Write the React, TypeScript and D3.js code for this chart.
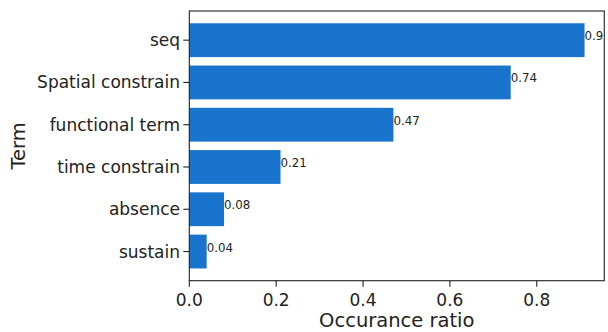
import React from 'react';
import * as d3 from 'd3';

// bottom to top, as drawn by barh
const terms = ['sustain', 'absence', 'time constrain', 'functional term', 'Spatial constrain', 'seq'];
const ratios = [0.04, 0.08, 0.21, 0.47, 0.74, 0.91];
const xTicks = [0, 0.2, 0.4, 0.6, 0.8];

const W = 608, H = 332;
const left = 189.3, right = 604.3, top = 11, bottom = 280.7;
const font = '"DejaVu Sans", sans-serif';
const barColor = '#1874cd';

export default function App() {
  const x = d3.scaleLinear().domain([0, d3.max(ratios)! * 1.05]).range([left, right]);
  // matplotlib barh: height 0.8, 5% margins
  const y = d3.scaleLinear().domain([-0.69, terms.length - 1 + 0.69]).range([bottom, top]);
  const bh = y(0) - y(0.8);

  return (
    <svg width={W} height={H} style={{ position: 'absolute', left: 0, top: 0 }} fontFamily={font}>
      <defs>
        <clipPath id="plotClip">
          <rect x={left} y={top} width={right - left} height={bottom - top} />
        </clipPath>
      </defs>
      <rect width={W} height={H} fill="#fff" />
      {ratios.map((v, i) => (
        <g key={terms[i]}>
          <rect x={x(0)} y={y(i) - bh / 2} width={x(v) - x(0)} height={bh} fill={barColor} />
          <text x={x(v)} y={y(i)} fontSize={11.8} fill="#222" clipPath="url(#plotClip)">{v.toFixed(2)}</text>
          <line x1={left - 6} x2={left} y1={y(i)} y2={y(i)} stroke="#222" strokeWidth={1.1} />
          <text x={180} y={y(i)} fontSize={17} textAnchor="end" dominantBaseline="central" fill="#222">{terms[i]}</text>
        </g>
      ))}
      {xTicks.map(t => (
        <g key={t}>
          <line x1={x(t)} x2={x(t)} y1={bottom} y2={bottom + 6} stroke="#222" strokeWidth={1.1} />
          <text x={x(t)} y={305.5} fontSize={17} textAnchor="middle" fill="#222">{t.toFixed(1)}</text>
        </g>
      ))}
      <rect x={left} y={top} width={right - left} height={bottom - top} fill="none" stroke="#222" strokeWidth={1.1} />
      <text x={(left + right) / 2} y={327} fontSize={19.5} textAnchor="middle" fill="#222">Occurance ratio</text>
      <text transform={`translate(25,${(top + bottom) / 2}) rotate(-90)`} fontSize={19.5} textAnchor="middle" fill="#222">Term</text>
    </svg>
  );
}
